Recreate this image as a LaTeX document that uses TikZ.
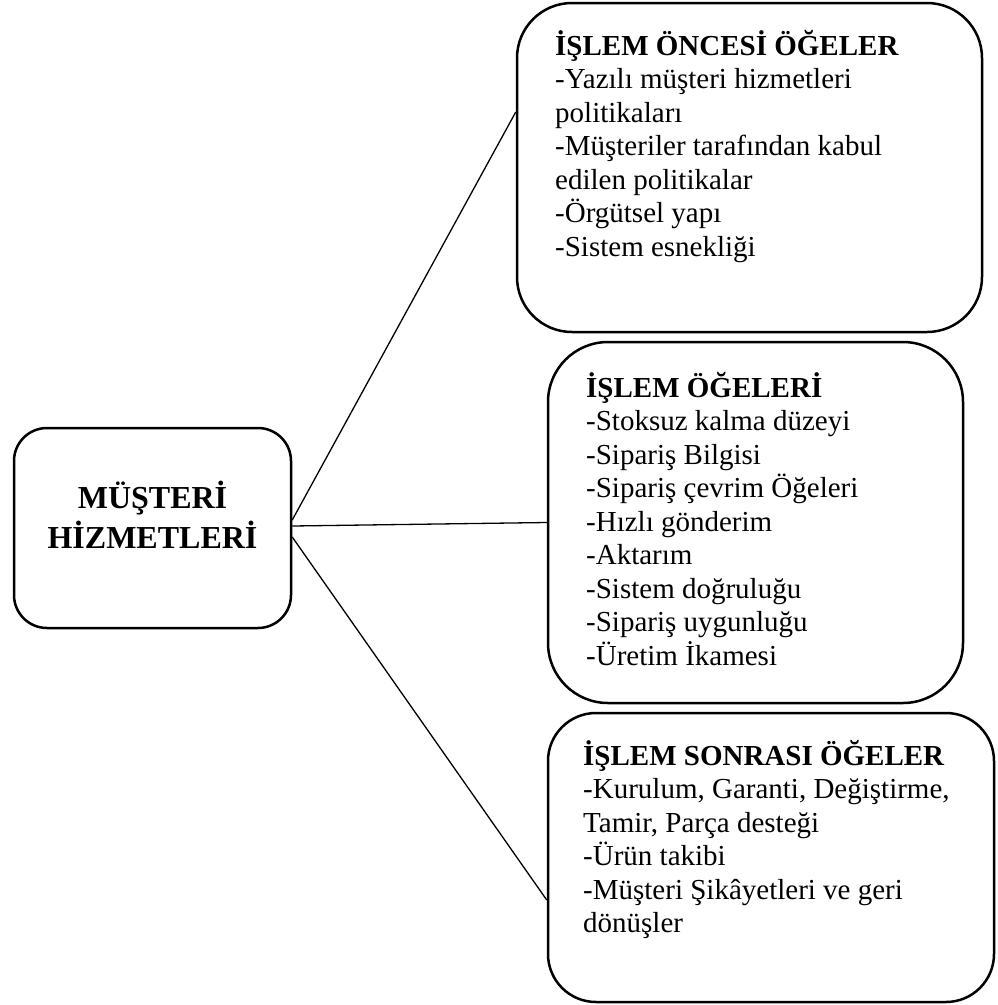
\documentclass[tikz,border=0pt]{standalone}
\usepackage{fontspec}
\setmainfont{Liberation Serif}
% Stacked lines with a fixed baseline distance; the block's baseline is the first line's.
\newcommand\leftlines[2]{\vtop{\lineskiplimit=-100pt\baselineskip=#1\halign{##\hfil\cr#2\crcr}}}
\newcommand\centerlines[2]{\vtop{\lineskiplimit=-100pt\baselineskip=#1\halign{\hfil##\hfil\cr#2\crcr}}}
\begin{document}
\begin{tikzpicture}[x=1pt,y=-1pt,
  panel/.style={draw, line width=2.5pt, rounded corners=#1, inner sep=0pt},
  link/.style={draw, line width=1.3pt},
  itemtext/.style={font=\fontsize{29}{33.5}\selectfont, inner sep=0pt, anchor=base west},
  headtext/.style={font=\fontsize{32}{40}\selectfont\bfseries, inner sep=0pt, anchor=base}]
\useasboundingbox (0,0) rectangle (998,1005);

% boxes
\node[panel=33pt, minimum width=277pt, minimum height=200pt] (cust) at (152.5,528) {};
\node[panel=55pt, minimum width=465pt, minimum height=329pt] (pre) at (749.5,167.5) {};
\node[panel=60pt, minimum width=415pt, minimum height=361pt] (trans) at (755.5,522.5) {};
\node[panel=48pt, minimum width=446pt, minimum height=289pt] (post) at (771,857.5) {};

% connectors
\draw[link] ([yshift=8pt]cust.east) -- ([yshift=55.5pt]pre.west);
\draw[link] ([yshift=2pt]cust.east) -- (trans.west);
\draw[link] ([yshift=-9pt]cust.east) -- ([yshift=-42.5pt]post.west);

% texts
\node[headtext] (custtext) at (152.5,508) {\centerlines{40pt}{MÜŞTERİ\cr HİZMETLERİ}};

\node[itemtext] (pretext) at (555,55) {\leftlines{33.5pt}{\textbf{İŞLEM ÖNCESİ ÖĞELER}\cr
-Yazılı müşteri hizmetleri\cr
politikaları\cr
-Müşteriler tarafından kabul\cr
edilen politikalar\cr
-Örgütsel yapı\cr
-Sistem esnekliği}};

\node[itemtext] (transtext) at (586,397) {\leftlines{33.5pt}{\textbf{İŞLEM ÖĞELERİ}\cr
-Stoksuz kalma düzeyi\cr
-Sipariş Bilgisi\cr
-Sipariş çevrim Öğeleri\cr
-Hızlı gönderim\cr
-Aktarım\cr
-Sistem doğruluğu\cr
-Sipariş uygunluğu\cr
-Üretim İkamesi}};

\node[itemtext] (posttext) at (583,765) {\leftlines{33.5pt}{\textbf{İŞLEM SONRASI ÖĞELER}\cr
-Kurulum, Garanti, Değiştirme,\cr
Tamir, Parça desteği\cr
-Ürün takibi\cr
-Müşteri Şikâyetleri ve geri\cr
dönüşler}};
\end{tikzpicture}
\end{document}
